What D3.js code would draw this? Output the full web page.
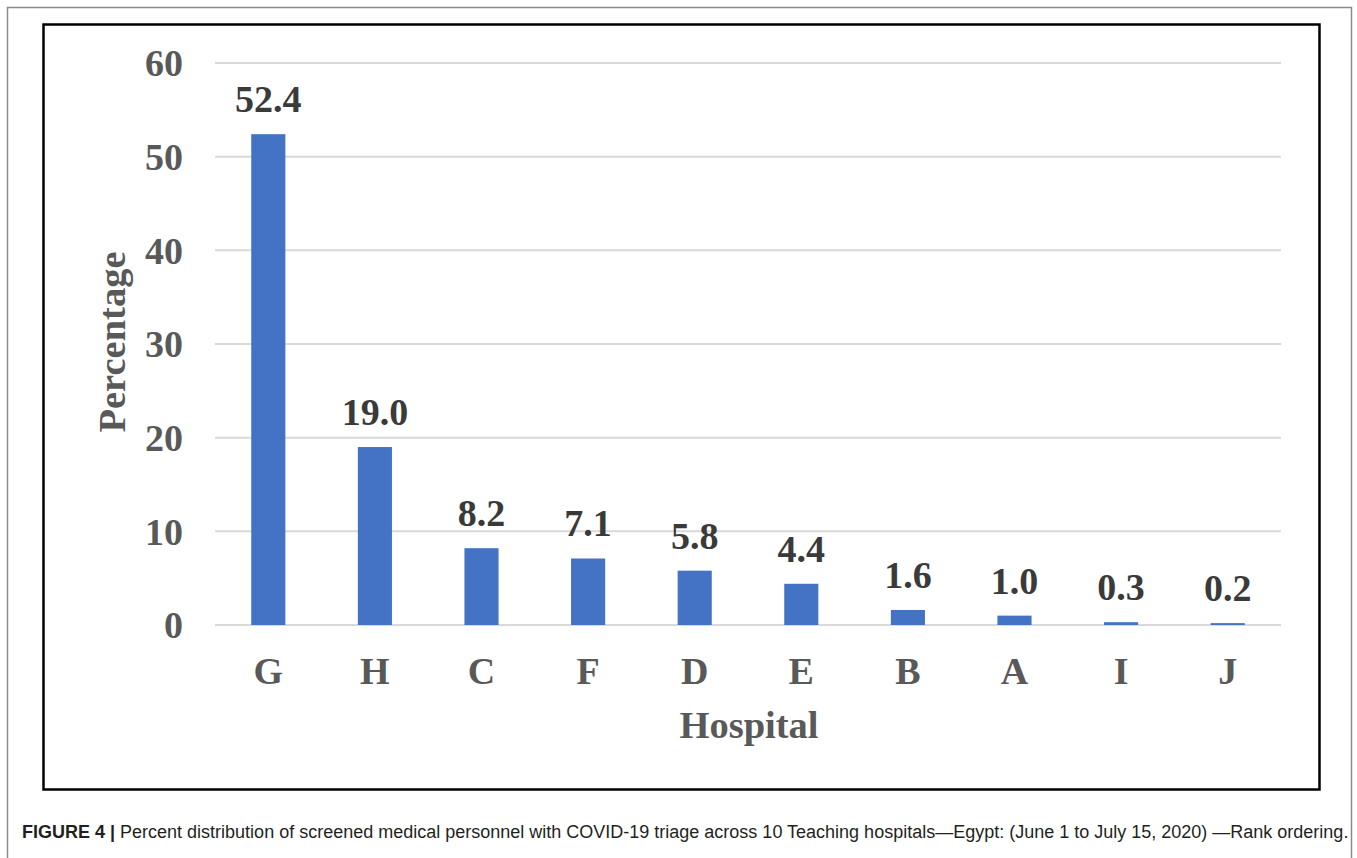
<!DOCTYPE html>
<html><head><meta charset="utf-8">
<script src="https://cdn.jsdelivr.net/npm/d3@7"></script>
<style>body{margin:0;background:#fff;}svg{display:block;}</style>
</head><body>
<svg id="c" width="1357" height="858"></svg>
<script>
const categories = ["G","H","C","F","D","E","B","A","I","J"];
const values = [52.4,19.0,8.2,7.1,5.8,4.4,1.6,1.0,0.3,0.2];
const yTicks = [0,10,20,30,40,50,60];

const svg = d3.select("#c");
// outer figure border
svg.append("rect").attr("x",7.5).attr("y",7.5).attr("width",1344).attr("height",870)
  .attr("fill","none").attr("stroke","#8a8a8a").attr("stroke-width",1.5);
// inner black box
svg.append("rect").attr("x",43.5).attr("y",24.5).attr("width",1276).attr("height",765)
  .attr("fill","#fff").attr("stroke","#000").attr("stroke-width",2.5);

const x = d3.scaleBand().domain(categories).range([215,1281]).paddingInner(0.68).paddingOuter(0.34);
const y = d3.scaleLinear().domain([0,60]).range([625,63]);

const serif = "'Liberation Serif','Times New Roman',serif";
// grid
svg.append("g").selectAll("line").data(yTicks).join("line")
  .attr("x1",215).attr("x2",1281).attr("y1",d=>y(d)).attr("y2",d=>y(d))
  .attr("stroke","#d9d9d9").attr("stroke-width",2);

// y labels
svg.append("g").selectAll("text").data(yTicks).join("text")
  .attr("x",183).attr("y",d=>y(d)).attr("dy","0.35em").attr("text-anchor","end")
  .attr("font-family",serif).attr("font-weight","bold").attr("font-size",38).attr("fill","#595959")
  .text(d=>d);

// bars
svg.append("g").selectAll("rect").data(values).join("rect")
  .attr("x",(d,i)=>x(categories[i])).attr("width",x.bandwidth())
  .attr("y",d=>y(d)).attr("height",d=>y(0)-y(d)).attr("fill","#4472c4");

// value labels
svg.append("g").selectAll("text").data(values).join("text")
  .attr("x",(d,i)=>x(categories[i])+x.bandwidth()/2).attr("y",d=>y(d)-22)
  .attr("text-anchor","middle").attr("font-family",serif).attr("font-weight","bold")
  .attr("font-size",38).attr("fill","#3a3a3a").text(d=>d.toFixed(1));

// x labels
svg.append("g").selectAll("text").data(categories).join("text")
  .attr("x",d=>x(d)+x.bandwidth()/2).attr("y",684).attr("text-anchor","middle")
  .attr("font-family",serif).attr("font-weight","bold").attr("font-size",38).attr("fill","#595959")
  .text(d=>d);

svg.append("text").attr("x",749).attr("y",738).attr("text-anchor","middle")
  .attr("font-family",serif).attr("font-weight","bold").attr("font-size",38.5).attr("fill","#595959")
  .text("Hospital");
svg.append("text").attr("transform","translate(125,342) rotate(-90)").attr("text-anchor","middle")
  .attr("font-family",serif).attr("font-weight","bold").attr("font-size",38.5).attr("fill","#595959")
  .text("Percentage");

// caption
const cap = svg.append("text").attr("x",22).attr("y",838)
  .attr("font-family","'Liberation Sans',Arial,sans-serif").attr("font-size",18).attr("fill","#231f20");
cap.append("tspan").attr("font-weight","bold").text("FIGURE 4 | ");
cap.append("tspan").text("Percent distribution of screened medical personnel with COVID-19 triage across 10 Teaching hospitals\u2014Egypt: (June 1 to July 15, 2020) \u2014Rank ordering.");
</script>
</body></html>
